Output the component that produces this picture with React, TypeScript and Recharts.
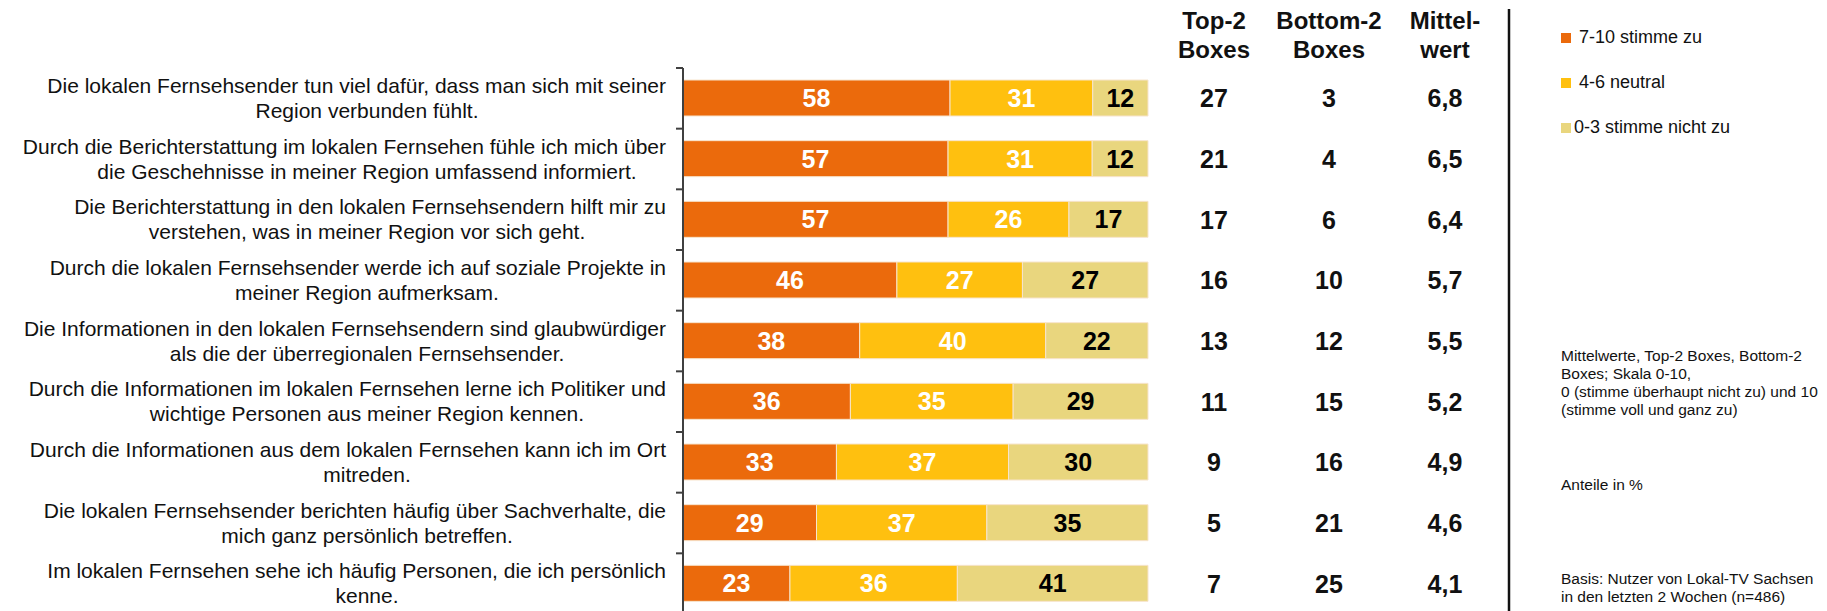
import React from 'react';
import { BarChart, Bar, XAxis, YAxis, Legend, LabelList } from 'recharts';

const categories = [
  'Die lokalen Fernsehsender tun viel dafür, dass man sich mit seiner\nRegion verbunden fühlt.',
  'Durch die Berichterstattung im lokalen Fernsehen fühle ich mich über\ndie Geschehnisse in meiner Region umfassend informiert.',
  'Die Berichterstattung in den lokalen Fernsehsendern hilft mir zu\nverstehen, was in meiner Region vor sich geht.',
  'Durch die lokalen Fernsehsender werde ich auf soziale Projekte in\nmeiner Region aufmerksam.',
  'Die Informationen in den lokalen Fernsehsendern sind glaubwürdiger\nals die der überregionalen Fernsehsender.',
  'Durch die Informationen im lokalen Fernsehen lerne ich Politiker und\nwichtige Personen aus meiner Region kennen.',
  'Durch die Informationen aus dem lokalen Fernsehen kann ich im Ort\nmitreden.',
  'Die lokalen Fernsehsender berichten häufig über Sachverhalte, die\nmich ganz persönlich betreffen.',
  'Im lokalen Fernsehen sehe ich häufig Personen, die ich persönlich\nkenne.',
];

const agree = [58, 57, 57, 46, 38, 36, 33, 29, 23];
const neutral = [31, 31, 26, 27, 40, 35, 37, 37, 36];
const disagree = [12, 12, 17, 27, 22, 29, 30, 35, 41];

const top2 = [27, 21, 17, 16, 13, 11, 9, 5, 7];
const bottom2 = [3, 4, 6, 10, 12, 15, 16, 21, 25];
const means = [6.8, 6.5, 6.4, 5.7, 5.5, 5.2, 4.9, 4.6, 4.1];

const seriesNames = [' 7-10 stimme zu', ' 4-6 neutral', '0-3 stimme nicht zu'];
const columnHeaders = [['Top-2', 'Boxes'], ['Bottom-2', 'Boxes'], ['Mittel-', 'wert']];
const notes = [
  'Mittelwerte, Top-2 Boxes, Bottom-2',
  'Boxes; Skala 0-10,',
  '0 (stimme überhaupt nicht zu) und 10',
  '(stimme voll und ganz zu)',
];
const unitNote = 'Anteile in %';
const baseNote = ['Basis: Nutzer von Lokal-TV Sachsen', 'in den letzten 2 Wochen (n=486)'];

const data = categories.map((name, i) => ({
  name,
  agree: agree[i],
  neutral: neutral[i],
  disagree: disagree[i],
  top2: top2[i],
  bottom2: bottom2[i],
  mean: means[i],
}));

const FONT = '"Liberation Sans", Arial, sans-serif';
const COLORS = ['#EB6A0C', '#FFC00F', '#E9D67E'];
const W = 1827;
const H = 614;
const TOP = 68;
const AXIS_X = 683;
const BAND = (H - TOP) / categories.length;
const COL_X = [1214, 1329, 1445];
const NOTE_X = 1561;

const CategoryTick = (props: any) => {
  const { y, payload } = props;
  const lines = String(payload.value).split('\n');
  return (
    <g>
      <line x1={AXIS_X - 7} x2={AXIS_X} y1={y - BAND / 2} y2={y - BAND / 2} stroke="#404040" strokeWidth={2} />
      <text x={666} y={y - 13} textAnchor="end" dominantBaseline="central" fontSize={21} fontFamily={FONT} fill="#111">
        {lines[0]}
      </text>
      {lines[1] && (
        <text x={367} y={y + 12} textAnchor="middle" dominantBaseline="central" fontSize={21} fontFamily={FONT} fill="#111">
          {lines[1]}
        </text>
      )}
    </g>
  );
};

const TableTick = (props: any) => {
  const { y, index } = props;
  const row = data[index];
  const vals = [String(row.top2), String(row.bottom2), row.mean.toFixed(1).replace('.', ',')];
  return (
    <g>
      {vals.map((v, k) => (
        <text key={k} x={COL_X[k]} y={y} textAnchor="middle" dominantBaseline="central" fontSize={25} fontWeight="bold" fontFamily={FONT} fill="#111">
          {v}
        </text>
      ))}
    </g>
  );
};

const renderLegend = (props: any) => {
  const items = [...(props.payload || [])].sort(
    (a: any, b: any) => seriesNames.indexOf(a.value) - seriesNames.indexOf(b.value)
  );
  return (
    <div style={{ fontFamily: FONT, fontSize: 18, color: '#111' }}>
      {items.map((item: any, i: number) => (
        <div key={i} style={{ display: 'flex', alignItems: 'center', height: 45, whiteSpace: 'pre' }}>
          <span style={{ display: 'inline-block', width: 10, height: 10, background: item.color, marginRight: 3 }} />
          <span>{item.value}</span>
        </div>
      ))}
    </div>
  );
};

export default function App() {
  return (
    <div style={{ position: 'absolute', left: 0, top: 0, width: W, height: 611, overflow: 'hidden', background: '#fff' }}>
      <BarChart
        width={W}
        height={H}
        data={data}
        layout="vertical"
        stackOffset="expand"
        barSize={36}
        margin={{ top: TOP, right: 0, bottom: 0, left: 0 }}
      >
        <XAxis type="number" hide domain={[0, 1]} />
        <YAxis
          yAxisId="left"
          type="category"
          dataKey="name"
          width={AXIS_X}
          axisLine={{ stroke: '#404040', strokeWidth: 2 }}
          tickLine={false}
          tick={<CategoryTick />}
          interval={0}
        />
        <YAxis
          yAxisId="right"
          orientation="right"
          type="category"
          dataKey="name"
          width={W - 1148}
          axisLine={false}
          tickLine={false}
          tick={<TableTick />}
          interval={0}
        />
        <Legend
          layout="horizontal"
          verticalAlign="middle"
          align="center"
          wrapperStyle={{ left: NOTE_X, top: 15, width: 260 }}
          content={renderLegend}
        />
        <Bar yAxisId="left" dataKey="agree" stackId="a" name={seriesNames[0]} fill={COLORS[0]} stroke="#F7E4CC" strokeWidth={1} isAnimationActive={false}>
          <LabelList dataKey="agree" position="center" fill="#fff" fontSize={25} fontWeight="bold" fontFamily={FONT} />
        </Bar>
        <Bar yAxisId="left" dataKey="neutral" stackId="a" name={seriesNames[1]} fill={COLORS[1]} stroke="#F7E4CC" strokeWidth={1} isAnimationActive={false}>
          <LabelList dataKey="neutral" position="center" fill="#fff" fontSize={25} fontWeight="bold" fontFamily={FONT} />
        </Bar>
        <Bar yAxisId="left" dataKey="disagree" stackId="a" name={seriesNames[2]} fill={COLORS[2]} stroke="#F7E4CC" strokeWidth={1} isAnimationActive={false}>
          <LabelList dataKey="disagree" position="center" fill="#000" fontSize={25} fontWeight="bold" fontFamily={FONT} />
        </Bar>
      </BarChart>
      <svg width={W} height={611} style={{ position: 'absolute', left: 0, top: 0, pointerEvents: 'none' }}>
        {columnHeaders.map((h, k) => (
          <g key={k}>
            <text x={COL_X[k]} y={20} textAnchor="middle" dominantBaseline="central" fontSize={24} fontWeight="bold" fontFamily={FONT} fill="#111">{h[0]}</text>
            <text x={COL_X[k]} y={49} textAnchor="middle" dominantBaseline="central" fontSize={24} fontWeight="bold" fontFamily={FONT} fill="#111">{h[1]}</text>
          </g>
        ))}
        <line x1={1509} x2={1509} y1={9} y2={611} stroke="#111" strokeWidth={2.5} />
        {notes.map((t, i) => (
          <text key={i} x={NOTE_X} y={355 + i * 18} dominantBaseline="central" fontSize={15.5} fontFamily={FONT} fill="#111">{t}</text>
        ))}
        <text x={NOTE_X} y={484} dominantBaseline="central" fontSize={15.5} fontFamily={FONT} fill="#111">{unitNote}</text>
        {baseNote.map((t, i) => (
          <text key={i} x={NOTE_X} y={578 + i * 18} dominantBaseline="central" fontSize={15.5} fontFamily={FONT} fill="#111">{t}</text>
        ))}
      </svg>
    </div>
  );
}
